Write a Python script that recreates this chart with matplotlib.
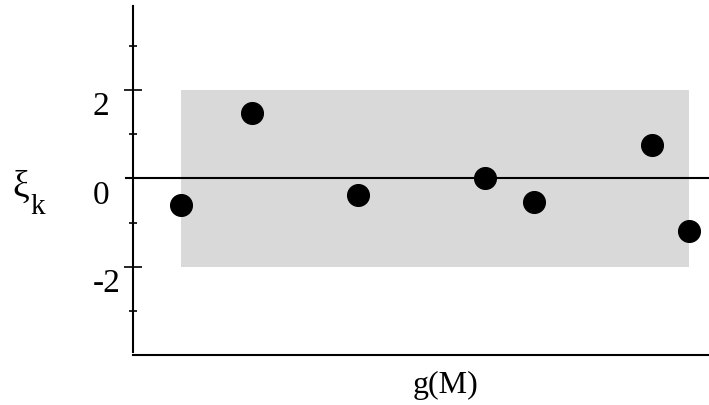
import matplotlib
matplotlib.use("Agg")
import matplotlib.pyplot as plt
import matplotlib.transforms as mtransforms

plt.rcParams['font.family'] = ['Liberation Serif', 'DejaVu Serif']

# residuals along the mass coordinate
g_positions = [0.0, 0.14, 0.348, 0.598, 0.694, 0.926, 1.0]
xi_values = [-0.60, 1.48, -0.37, 0.0, -0.53, 0.75, -1.20]

band_x = [0.0, 1.0]
band_y = [-2.0, 2.0]

major_ticks = [-2, 0, 2]
major_labels = ['-2', '0', '2']
minor_ticks = [-3, -1, 1, 3]

fig = plt.figure(figsize=(7.09, 4.05), dpi=100)
ax = fig.add_axes([133 / 709, 1 - 352 / 405, 1 - 133 / 709, (352 - 6) / 405])

ax.set_xlim(-0.0945, 1.039)
ax.set_ylim(-3.93, 3.9)

ax.fill_between(band_x, band_y[0], band_y[1], color='#d9d9d9', lw=0, zorder=1)
ax.axhline(0, color='black', lw=1.5, zorder=2, xmin=-0.013, clip_on=False)
ax.plot(g_positions, xi_values, 'o', color='black', markersize=15.6, zorder=3, clip_on=False)

for side in ('top', 'right'):
    ax.spines[side].set_visible(False)
ax.spines['left'].set_linewidth(1.5)
ax.spines['bottom'].set_linewidth(1.5)
ax.spines['bottom'].set_position(('outward', 2))
ax.set_xticks([])

ax.set_yticks([-2, 2])
ax.set_yticks(minor_ticks, minor=True)
ax.tick_params(axis='y', which='major', direction='inout', length=13, width=1.2, labelleft=False)
ax.tick_params(axis='y', which='minor', direction='inout', length=6, width=1.2)

offset = mtransforms.ScaledTranslation(0, -17 / 100, fig.dpi_scale_trans)
trans = mtransforms.blended_transform_factory(fig.transFigure, ax.transData) + offset
for val, lab in zip(major_ticks, major_labels):
    ax.text(93 / 709, val, lab, transform=trans, ha='left', va='center', fontsize=24)

# y-axis symbol: xi with subscript k
fig.text(12 / 709, 1 - 187 / 405, '\u03be', ha='left', va='center', fontsize=27)
fig.text(30 / 709, 1 - 214 / 405, 'k', ha='left', va='baseline', fontsize=21)
fig.text(446 / 709, 1 - 385 / 405, 'g(M)', ha='center', va='center', fontsize=23)

fig.savefig('out.png', dpi=100)
